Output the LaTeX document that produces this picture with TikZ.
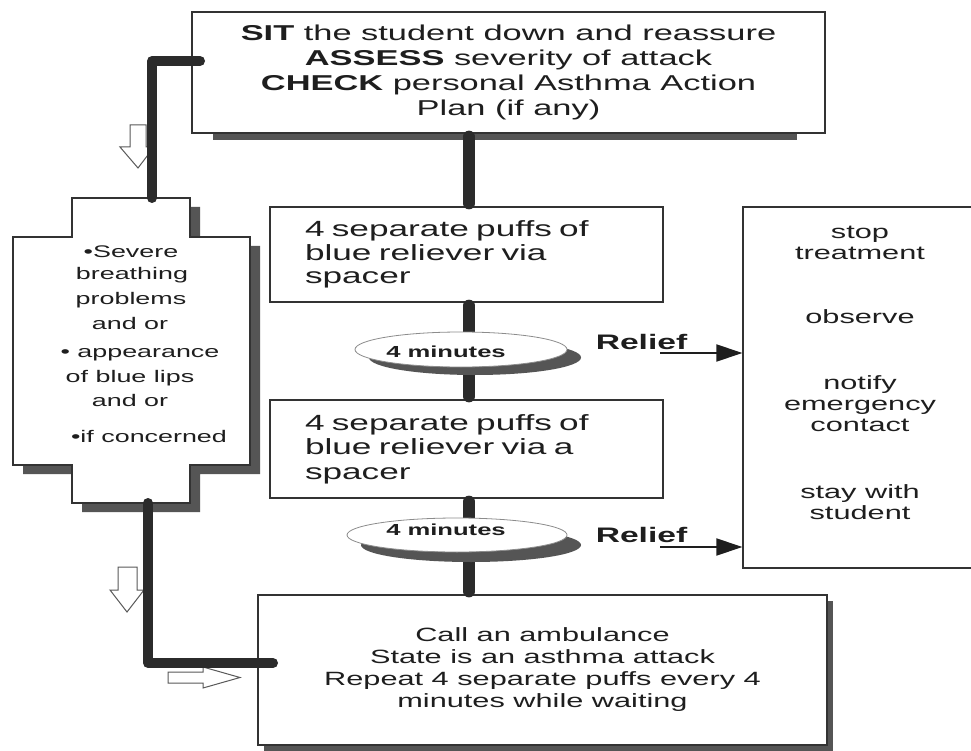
\documentclass[tikz,border=0pt]{standalone}
\usepackage{fontspec}
\setmainfont{Liberation Sans}[FakeStretch=1.6]
\usetikzlibrary{arrows.meta,calc,shapes.geometric}
\definecolor{ink}{HTML}{1E1E1E}
\definecolor{edge}{HTML}{333333}
\definecolor{shadowc}{HTML}{555555}
\definecolor{barc}{HTML}{2B2B2B}
\begin{document}
\begin{tikzpicture}[x=1pt,y=-1pt,
  box/.style={draw=edge,line width=1.3pt,fill=white,inner sep=0pt,text=ink},
  bar/.style={draw=barc,line width=12pt,line cap=round},
  sidebar/.style={draw=barc,line width=10pt,line cap=round,line join=round},
  hollow/.style={draw=black!65,fill=white,line width=1pt,line join=miter},
  oval/.style={ellipse,draw=black!45,line width=0.8pt,fill=white,inner sep=0pt},
  ovalshadow/.style={ellipse,inner sep=0pt},
  lbl/.style={text=ink,inner sep=0pt,align=center},
  relarrow/.style={draw=ink,line width=2pt,-{Triangle[length=26pt,width=17pt]}},
]
\useasboundingbox (0,0) rectangle (971,751);
\clip (0,0) rectangle (971,751);
\fill[white] (0,0) rectangle (971,751);

% shadows
\fill[shadowc] (213,133) rectangle (797,140);
\fill[shadowc] (264,601) rectangle (833,751);
\fill[shadowc] (82,207) -- (200,207) -- (200,246) -- (260,246) -- (260,474) -- (200,474)
  -- (200,512) -- (82,512) -- (82,474) -- (23,474) -- (23,246) -- (82,246) -- cycle;

% boxes
\node[box,minimum width=633,minimum height=121,align=center,
  font=\fontsize{21.5}{25}\selectfont] (top) at (508.5,72.5)
  {\textbf{SIT} the student down and reassure\\
   \textbf{ASSESS} severity of attack\\
   \textbf{CHECK} personal Asthma Action\\
   Plan (if any)};
\node[box,minimum width=393,minimum height=95,text width=323,inner xsep=35,align=left,
  font=\fontsize{22}{23.5}\selectfont] (box1) at (466.5,254.5)
  {4 separate puffs of\\ blue reliever via\\ spacer};
\node[box,minimum width=393,minimum height=98,text width=323,inner xsep=35,align=left,
  font=\fontsize{22}{24.5}\selectfont] (box2) at (466.5,449)
  {4 separate puffs of\\ blue reliever via a\\ spacer};
\node[box,minimum width=569,minimum height=150,align=center,
  font=\fontsize{19.2}{22}\selectfont] (bottom) at (542.5,670)
  {Call an ambulance\\ State is an asthma attack\\ Repeat 4 separate puffs every 4\\ minutes while waiting};
\node[box,minimum width=257,minimum height=361] (right) at (871.5,387.5) {};

% cross-shaped box
\draw[draw=edge,line width=1.3pt,fill=white] (72,198) -- (190,198) -- (190,237) -- (250,237)
  -- (250,465) -- (190,465) -- (190,503) -- (72,503) -- (72,465) -- (13,465) -- (13,237)
  -- (72,237) -- cycle;
\node[inner sep=0pt,minimum width=237,minimum height=305] (cross) at (131.5,350.5) {};

% hollow arrows
\draw[hollow] (130,125) -- (146,125) -- (146,147) -- (154,147) -- (138,168) -- (120,147) -- (130,147) -- cycle;
\draw[hollow] (118,567) -- (137,567) -- (137,590) -- (144,590) -- (127,612) -- (110,590) -- (118,590) -- cycle;
\draw[hollow] (168,672) -- (203,672) -- (203,667) -- (240,677.5) -- (203,688) -- (203,683) -- (168,683) -- cycle;

% side connectors
\coordinate (a1) at (200,61);
\coordinate (a2) at (152,198);
\coordinate (b1) at (148,503);
\coordinate (b2) at (273,663);
\draw[sidebar] (a1) -| (a2);
\draw[sidebar] (b1) |- (b2);

% central connector
\coordinate (cx) at (469,0);
\node[ovalshadow,minimum width=212,minimum height=35] (ell1s) at (475,357.5) {};
\node[ovalshadow,minimum width=220,minimum height=34] (ell2s) at (471,545) {};
\draw[bar,shorten <=3pt,shorten >=3pt] (cx |- top.south) -- (cx |- box1.north);
\draw[bar,shorten <=3pt] (cx |- box1.south) -- (cx |- ell1s.center);
\draw[bar,shorten >=3pt] (cx |- ell1s.center) -- (cx |- box2.north);
\draw[bar,shorten <=3pt] (cx |- box2.south) -- (cx |- ell2s.center);
\draw[bar,shorten >=3pt] (cx |- ell2s.center) -- (cx |- bottom.north);
\fill[shadowc] (ell1s.center) ellipse (106 and 17.5);
\fill[shadowc] (ell2s.center) ellipse (110 and 17);
\node[oval,minimum width=212,minimum height=35] (ell1) at (461,349.5) {};
\node[oval,minimum width=220,minimum height=34] (ell2) at (457,535) {};
\node[lbl,font=\fontsize{16}{18}\selectfont\bfseries] (m1) at (446,352) {4 minutes};
\node[lbl,font=\fontsize{16}{18}\selectfont\bfseries] (m2) at (446,530) {4 minutes};

% cross text
\begin{scope}[every node/.style={lbl,font=\fontsize{16.8}{23}\selectfont}]
\node (c1) at (131,252) {•Severe};
\node (c2) at (132,275) {breathing};
\node (c3) at (131,300) {problems};
\node (c4) at (130,323) {and or};
\node (c5) at (140,355) {• appearance};
\node (c6) at (130,378) {of blue lips};
\node (c7) at (130,400) {and or};
\node (c8) at (149,436) {•if concerned};
\end{scope}

% right box text
\begin{scope}[every node/.style={lbl,font=\fontsize{19.2}{21}\selectfont}]
\node (s1) at (860,242.5) {stop\\treatment};
\node (s2) at (860,317) {observe};
\node (s3) at (860,403.5) {notify\\emergency\\contact};
\node (s4) at (860,502.5) {stay with\\student};
\end{scope}

% relief
\node[lbl,font=\fontsize{21}{24}\selectfont\bfseries] (rel1) at (641.5,341.5) {Relief};
\node[lbl,font=\fontsize{21}{24}\selectfont\bfseries] (rel2) at (641.5,534.5) {Relief};
\coordinate (r1) at (660,353);
\coordinate (r2) at (660,547);
\draw[relarrow] (r1) -- (r1 -| right.west);
\draw[relarrow] (r2) -- (r2 -| right.west);
\end{tikzpicture}
\end{document}
